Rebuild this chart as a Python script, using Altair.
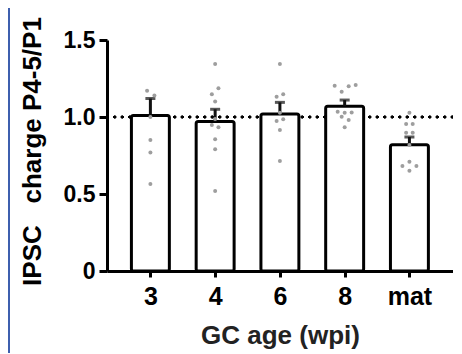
import altair as alt
import pandas as pd

groups = ["3", "4", "6", "8", "mat"]
means = [1.01, 0.97, 1.02, 1.07, 0.82]
upper = [1.12, 1.05, 1.095, 1.11, 0.87]

dot_group = (["3"] * 6 + ["4"] * 10 + ["6"] * 8 + ["8"] * 10 + ["mat"] * 10)
dot_value = [
    1.17, 1.14, 1.00, 0.85, 0.77, 0.565,
    1.344, 1.186, 1.147, 1.10, 0.987, 0.948, 0.933, 0.855, 0.79, 0.52,
    1.344, 1.147, 1.132, 1.028, 0.974, 0.985, 0.916, 0.714,
    1.203, 1.164, 1.199, 1.208, 1.034, 1.028, 1.03, 1.002, 0.98, 0.933,
    1.028, 0.955, 0.955, 0.898, 0.898, 0.818, 0.71, 0.682, 0.682, 0.651,
]
# horizontal jitter of the dots, in pixels
dot_jitter = [
    -3.3, 4, 0, 0, 0, 0,
    0, 3.3, -3.3, 0, 0, -3.3, 3.3, 0, 0, 0,
    0, 3.3, -3.3, 0, -3.3, 3.3, 0, 0,
    -10, -3, 4, 11, -7, 0, 7, -3, 4, 0,
    0, -3.3, 3.3, -3.3, 3.3, 0, 0, -7, 7, 0,
]

STEP = 64.75      # pixels per category
HALF = 0.293      # half bar width in category units

bars_df = pd.DataFrame({"g": groups, "i": list(range(len(groups))), "mean": means, "up": upper})
dots_df = pd.DataFrame({
    "g": dot_group,
    "i": [groups.index(g) for g in dot_group],
    "v": dot_value,
    "j": dot_jitter,
})

FONT = "Liberation Sans"
xscale = alt.Scale(domain=[-0.67, 4.673], nice=False, zero=False)
yscale = alt.Scale(domain=[0, 1.5], nice=False)

label_list = "[" + ",".join("'" + g + "'" for g in groups) + "]"

common = dict(
    grid=False, domainColor="black", domainWidth=3, domainOpacity=1,
    tickColor="black", tickWidth=3, tickOpacity=1,
    labelColor="black", labelFont=FONT, labelFontWeight="bold",
    titleFont=FONT, titleFontWeight="bold",
)

x_axis = alt.Axis(
    title="GC age (wpi)", values=list(range(len(groups))),
    labelExpr=label_list + "[datum.value]",
    labelFontSize=25, labelAngle=0, labelBaseline="alphabetic", labelPadding=27,
    tickSize=6, titleFontSize=26, titleColor="#222222",
    titleBaseline="alphabetic", titleY=72, **common,
)
y_axis = alt.Axis(
    title="IPSC\u00a0\u00a0\u00a0charge P4-5/P1", values=[0, 0.5, 1.0, 1.5],
    labelExpr="datum.value == 0 ? '0' : format(datum.value, '.1f')",
    labelFontSize=23, labelPadding=4, tickSize=8,
    titleFontSize=26, titleColor="black",
    titleBaseline="alphabetic", titleX=-67, titleY=111, titleAngle=270, **common,
)

base = alt.Chart(bars_df)

edge = base.mark_rule(color="#3f5fae", strokeWidth=1.5).encode(
    x=alt.value(-98), y=alt.value(-32), y2=alt.value(313)
)

ref = base.mark_rule(color="black", strokeWidth=2.5, strokeDash=[0.5, 7], strokeCap="round").encode(
    y=alt.datum(1.0, scale=yscale, axis=y_axis), x=alt.value(0), x2=alt.value(346)
)

bars = base.mark_bar(fill="white", stroke="black", strokeWidth=3, cornerRadius=2, strokeJoin="round").transform_calculate(
    x0=f"datum.i - {HALF}", x1=f"datum.i + {HALF}"
).encode(
    x=alt.X("x0:Q", scale=xscale, axis=x_axis),
    x2="x1:Q",
    y=alt.Y("mean:Q", scale=yscale, axis=y_axis),
    y2=alt.datum(0),
)

stems = base.mark_rule(color="#111111", strokeWidth=3).encode(
    x=alt.X("i:Q", scale=xscale, axis=x_axis),
    y=alt.Y("mean:Q", scale=yscale, axis=y_axis),
    y2="up:Q",
)

caps = base.mark_tick(color="#111111", thickness=3, size=10, orient="horizontal").encode(
    x=alt.X("i:Q", scale=xscale, axis=x_axis),
    y=alt.Y("up:Q", scale=yscale, axis=y_axis),
)

dots = alt.Chart(dots_df).mark_circle(color="#9e9e9e", opacity=1, size=16).transform_calculate(
    xp=f"datum.i + datum.j / {STEP}"
).encode(
    x=alt.X("xp:Q", scale=xscale, axis=x_axis),
    y=alt.Y("v:Q", scale=yscale, axis=y_axis),
)

chart = alt.layer(edge, ref, bars, stems, caps, dots).properties(
    width=346, height=231,
    autosize=alt.AutoSizeParams(type="none"),
    padding={"left": 99, "top": 32, "right": 0, "bottom": 82},
).configure(background="white").configure_view(stroke=None).configure_axis(**common)

chart.save("out.html", embed_options={"renderer": "svg", "actions": False})
